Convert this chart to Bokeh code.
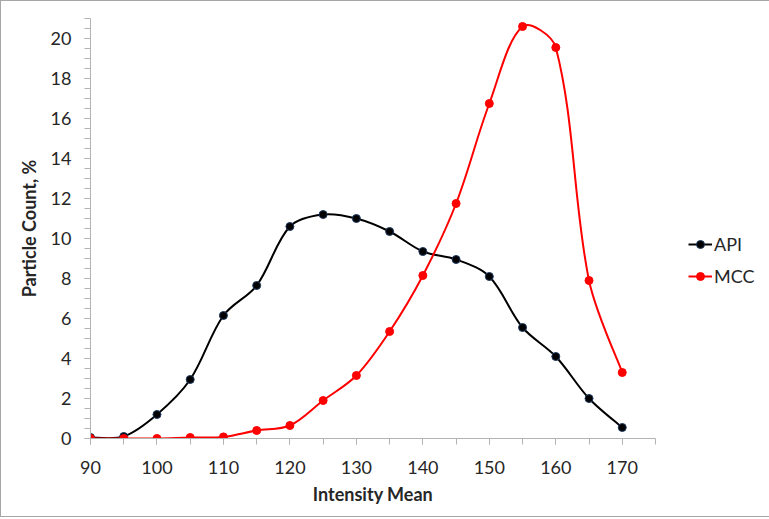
import math
from bokeh.plotting import figure
from bokeh.models import FixedTicker, Legend, LegendItem, ColumnDataSource
from bokeh.embed import file_html
from bokeh.resources import INLINE

# ---- data ----
intensity = [90, 95, 100, 105, 110, 115, 120, 125, 130, 135, 140, 145, 150, 155, 160, 165, 170]
api = [0.05, 0.1, 1.2, 2.95, 6.15, 7.65, 10.6, 11.2, 11.0, 10.35, 9.35, 8.95, 8.1, 5.55, 4.1, 2.0, 0.55]
mcc = [0.0, 0.0, 0.0, 0.05, 0.08, 0.4, 0.65, 1.9, 3.15, 5.35, 8.15, 11.75, 16.75, 20.6, 19.55, 7.9, 3.3]
x_labels = [90, 100, 110, 120, 130, 140, 150, 160, 170]
x_minor = [90, 95, 100, 105, 110, 115, 120, 125, 130, 135, 140, 145, 150, 155, 160, 165, 170, 175]
y_labels = [0, 2, 4, 6, 8, 10, 12, 14, 16, 18, 20]
y_minor = [i * 0.5 for i in range(0, 43)]

X0, X1, Y0, Y1 = 90, 175, 0, 21
FW, FH = 565, 420
SX, SY = FW / (X1 - X0), FH / (Y1 - Y0)


def smooth_segments(xs, ys):
    """Excel-like smoothed line: cubic Bezier segments through the points."""
    n = len(xs)
    P = [(a, b) for a, b in zip(xs, ys)]

    def dist(i, j):
        return math.hypot((P[j][0] - P[i][0]) * SX, (P[j][1] - P[i][1]) * SY)

    d = [dist(i, i + 1) for i in range(n - 1)]
    x0, y0, x1, y1, cx0, cy0, cx1, cy1 = ([] for _ in range(8))
    for i in range(n - 1):
        a, b = P[i], P[i + 1]
        pa = P[i - 1] if i > 0 else a
        pb = P[i + 2] if i + 2 < n else b
        da_prev = d[i - 1] if i > 0 else d[i]
        db_next = d[i + 1] if i + 1 < n - 1 else d[i]
        fa = d[i] / (da_prev + d[i]) / 3.0
        fb = d[i] / (d[i] + db_next) / 3.0
        x0.append(a[0]); y0.append(a[1])
        x1.append(b[0]); y1.append(b[1])
        cx0.append(a[0] + (b[0] - pa[0]) * fa)
        cy0.append(a[1] + (b[1] - pa[1]) * fa)
        cx1.append(b[0] - (pb[0] - a[0]) * fb)
        cy1.append(b[1] - (pb[1] - a[1]) * fb)
    return ColumnDataSource(dict(x0=x0, y0=y0, x1=x1, y1=y1, cx0=cx0, cy0=cy0, cx1=cx1, cy1=cy1))


p = figure(frame_width=FW, frame_height=FH, x_range=(X0, X1), y_range=(Y0, Y1),
           output_backend="svg", toolbar_location=None,
           min_border_left=89, min_border_right=112, min_border_top=17, min_border_bottom=78)
p.outline_line_color = None
p.xgrid.visible = False
p.ygrid.visible = False
p.background_fill_color = "white"
p.border_fill_color = "white"
p.styles = {"border": "1px solid #a6a6a6"}

FONT = "Lato"
TEXT = "#262626"
AX = "#b3b3b3"

for ax in (p.xaxis[0], p.yaxis[0]):
    ax.axis_line_color = AX
    ax.major_tick_line_color = AX
    ax.minor_tick_line_color = AX
    ax.major_tick_in = 0
    ax.major_tick_out = 6
    ax.minor_tick_in = 0
    ax.minor_tick_out = 6
    ax.major_label_text_font = FONT
    ax.major_label_text_font_size = "18px"
    ax.major_label_text_color = TEXT
    ax.axis_label_text_font = FONT
    ax.axis_label_text_font_size = "18px"
    ax.axis_label_text_font_style = "bold"
    ax.axis_label_text_color = TEXT

p.xaxis[0].ticker = FixedTicker(ticks=x_labels, minor_ticks=x_minor)
p.yaxis[0].ticker = FixedTicker(ticks=y_labels, minor_ticks=y_minor)
p.xaxis[0].axis_label = "Intensity Mean"
p.yaxis[0].axis_label = "Particle Count, %"
p.xaxis[0].major_label_standoff = 16
p.xaxis[0].axis_label_standoff = 6
p.yaxis[0].major_label_standoff = 13
p.yaxis[0].axis_label_standoff = 8

series = [("API", api, "#000000", "#1f3a60"), ("MCC", mcc, "#ff0000", "#ff0000")]
items = []
for name, vals, col, edge in series:
    p.bezier(x0="x0", y0="y0", x1="x1", y1="y1", cx0="cx0", cy0="cy0", cx1="cx1", cy1="cy1",
             source=smooth_segments(intensity, vals), line_color=col, line_width=2)
    # legend-only line sample, kept outside the visible ranges
    leg_line = p.line(x=[0, 1], y=[-10, -10], line_color=col, line_width=2)
    sc = p.scatter(intensity, vals, size=8, fill_color=col, line_color=edge, line_width=1)
    items.append(LegendItem(label=name, renderers=[leg_line, sc]))

legend = Legend(items=items, location=(33, 151), padding=0, margin=0, spacing=10,
                glyph_width=24, glyph_height=20, label_height=20, label_standoff=2,
                label_text_font=FONT, label_text_font_size="18px", label_text_color=TEXT,
                border_line_color=None, background_fill_alpha=0)
p.add_layout(legend, "right")

open("out.html", "w").write(file_html(p, INLINE))
